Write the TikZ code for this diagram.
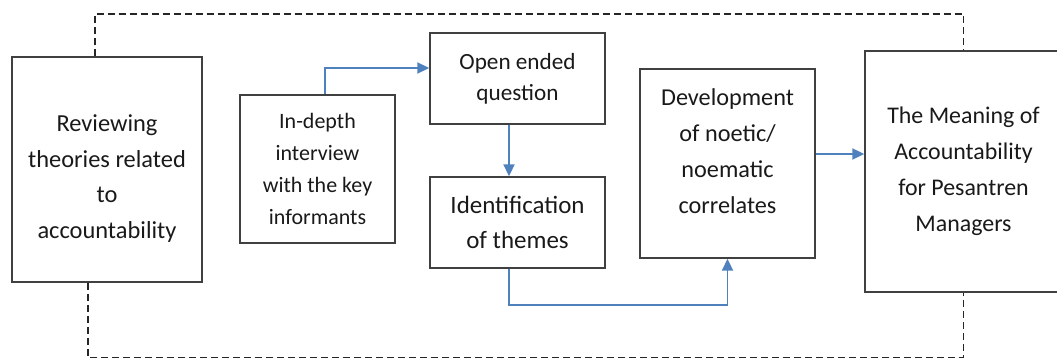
\documentclass[tikz,border=0pt]{standalone}
\usepackage{fontspec}
\setmainfont{Carlito}
\usepackage{tikz}
\usetikzlibrary{arrows.meta}
\definecolor{flowblue}{HTML}{4F81BD}

\begin{document}
\begin{tikzpicture}[
		box/.style={draw=black!75, line width=0.8pt, align=center, inner sep=0pt, text=black!90},
		flow/.style={draw=flowblue, line width=1.1pt, -{Triangle[length=0.24cm,width=0.22cm]}},
		feedback/.style={draw=black!85, line width=0.8pt, dash pattern=on 0.14cm off 0.08cm}
	]
		%%%%% START %%%%%
		
		\useasboundingbox (0, 0) rectangle (21.14, -7.16);
		
		\node[box, minimum width=3.8cm, minimum height=4.5cm, text height=2.82cm, font=\fontsize{13.9}{20.2}\selectfont] (review) at (2.14, -3.39) {Reviewing\\theories related\\to\\accountability};
		\node[box, minimum width=3.1cm, minimum height=2.96cm, font=\fontsize{12.5}{18.2}\selectfont] (interview) at (6.35, -3.38) {In-depth\\interview\\with the key\\informants};
		\node[box, minimum width=3.5cm, minimum height=1.82cm, font=\fontsize{13.2}{17.6}\selectfont] (question) at (10.35, -1.57) {Open ended\\question};
		\node[box, minimum width=3.5cm, minimum height=1.82cm, font=\fontsize{14.2}{19.8}\selectfont] (themes) at (10.35, -4.45) {Identification\\of themes};
		\node[box, minimum width=3.5cm, minimum height=3.78cm, text depth=0.5cm, font=\fontsize{13.8}{20.4}\selectfont] (noetic) at (14.55, -3.27) {Development\\of noetic/\\noematic\\correlates};
		\node[box, minimum width=3.94cm, minimum height=4.82cm, font=\fontsize{13.6}{20.4}\selectfont] (meaning) at (19.27, -3.43) {The Meaning of\\Accountability\\for Pesantren\\Managers};
		
		\draw[flow] ([xshift=0.15cm]interview.north) |- ([yshift=0.21cm]question.west);
		\draw[flow] ([xshift=-0.17cm]question.south) -- ([xshift=-0.17cm]themes.north);
		\draw[flow] ([xshift=-0.17cm]themes.south) -- ++(0, -0.72) -| (noetic.south);
		\draw[flow] ([yshift=0.19cm]noetic.east) -- ([yshift=0.19cm]noetic.east -| meaning.west);
		
		\coordinate (topline) at (0, -0.28);
		\coordinate (bottomline) at (0, -7.15);
		\draw[feedback] ([xshift=-0.24cm]review.north) |- (topline -| meaning.north) -- (meaning.north);
		\draw[feedback] ([xshift=-0.38cm]review.south) |- (bottomline -| meaning.south) -- (meaning.south);
		
		%%%%% END %%%%%
	\end{tikzpicture}
\end{document}
